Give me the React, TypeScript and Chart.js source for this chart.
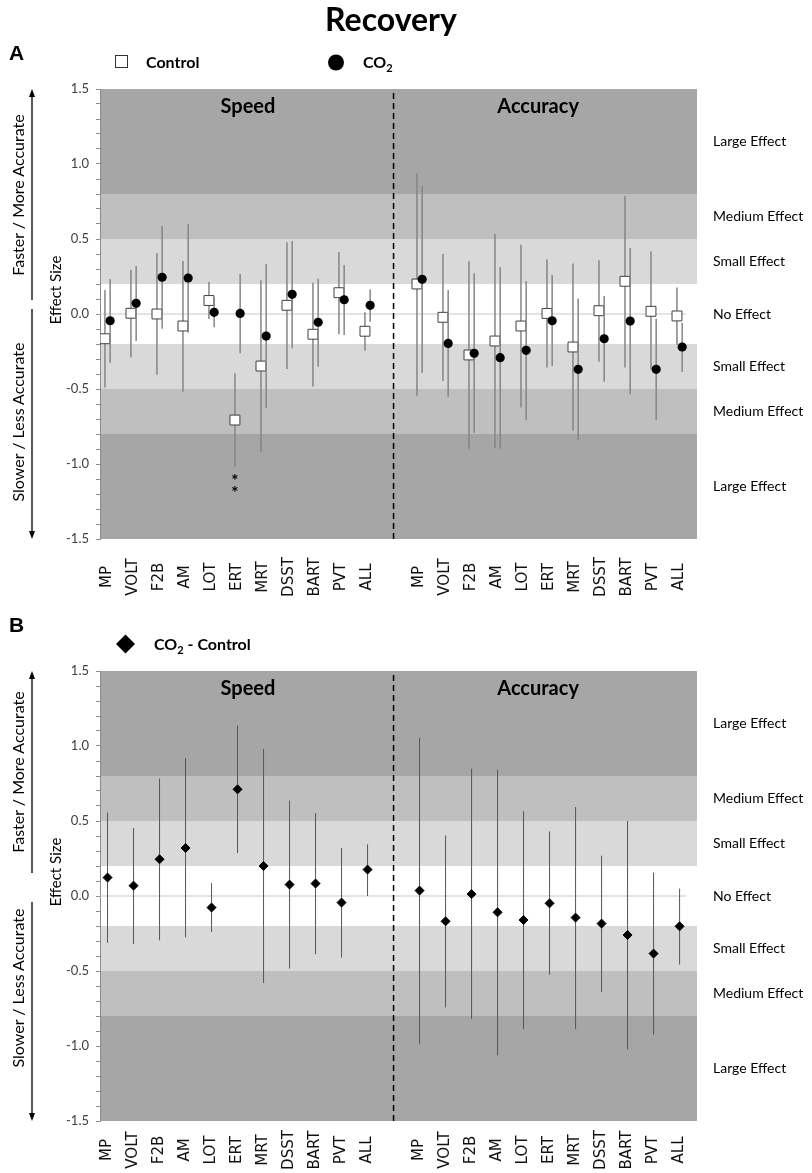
import React, { useEffect, useRef } from 'react';
import { Chart, registerables } from 'chart.js';

Chart.register(...registerables);

// ---------- categories & tick labels ----------
const SPEED_TESTS = ['MP', 'VOLT', 'F2B', 'AM', 'LOT', 'ERT', 'MRT', 'DSST', 'BART', 'PVT', 'ALL'];
const ACCURACY_TESTS = ['MP', 'VOLT', 'F2B', 'AM', 'LOT', 'ERT', 'MRT', 'DSST', 'BART', 'PVT', 'ALL'];
const Y_MAJOR_TICKS = [-1.5, -1.0, -0.5, 0.0, 0.5, 1.0, 1.5];
const EFFECT_LABELS = ['Large Effect', 'Medium Effect', 'Small Effect', 'No Effect', 'Small Effect', 'Medium Effect', 'Large Effect'];
const EFFECT_LABEL_VALUES = [1.15, 0.65, 0.35, 0.0, -0.35, -0.65, -1.15];
const BAND_LIMITS = [-1.5, -0.8, -0.5, -0.2, 0.2, 0.5, 0.8, 1.5];

// ---------- Panel A : Control ----------
const A_CONTROL_SPEED = [-0.165, 0.005, 0.0, -0.08, 0.09, -0.707, -0.347, 0.058, -0.135, 0.142, -0.115];
const A_CONTROL_SPEED_LOW = [-0.49, -0.289, -0.405, -0.518, -0.033, -1.018, -0.918, -0.367, -0.484, -0.135, -0.245];
const A_CONTROL_SPEED_HIGH = [0.16, 0.293, 0.407, 0.353, 0.213, -0.395, 0.225, 0.478, 0.209, 0.413, 0.011];
const A_CONTROL_ACC = [0.2, -0.022, -0.273, -0.18, -0.08, 0.004, -0.22, 0.022, 0.218, 0.018, -0.013];
const A_CONTROL_ACC_LOW = [-0.545, -0.447, -0.9, -0.893, -0.624, -0.356, -0.778, -0.318, -0.356, -0.369, -0.207];
const A_CONTROL_ACC_HIGH = [0.938, 0.4, 0.351, 0.533, 0.462, 0.364, 0.336, 0.358, 0.789, 0.416, 0.176];

// ---------- Panel A : CO2 ----------
const A_CO2_SPEED = [-0.045, 0.071, 0.245, 0.24, 0.011, 0.004, -0.147, 0.131, -0.055, 0.095, 0.058];
const A_CO2_SPEED_LOW = [-0.325, -0.18, -0.098, -0.125, -0.089, -0.262, -0.629, -0.229, -0.351, -0.14, -0.051];
const A_CO2_SPEED_HIGH = [0.233, 0.32, 0.587, 0.6, 0.11, 0.267, 0.333, 0.487, 0.235, 0.327, 0.164];
const A_CO2_ACC = [0.231, -0.196, -0.262, -0.291, -0.242, -0.045, -0.369, -0.165, -0.047, -0.369, -0.22];
const A_CO2_ACC_LOW = [-0.391, -0.551, -0.791, -0.898, -0.707, -0.347, -0.84, -0.451, -0.535, -0.707, -0.385];
const A_CO2_ACC_HIGH = [0.853, 0.16, 0.271, 0.311, 0.22, 0.26, 0.104, 0.12, 0.44, -0.031, -0.058];

// significance marks (panel A, Control ERT)
const A_SIG_TEST = 'ERT';
const A_SIG_VALUES = [-1.093, -1.167];
const A_SIG_TEXT = '*';

// ---------- Panel B : CO2 - Control ----------
const B_DIFF_SPEED = [0.123, 0.069, 0.245, 0.32, -0.077, 0.711, 0.2, 0.076, 0.083, -0.044, 0.176];
const B_DIFF_SPEED_LOW = [-0.313, -0.32, -0.295, -0.275, -0.24, 0.287, -0.58, -0.484, -0.387, -0.411, 0.0];
const B_DIFF_SPEED_HIGH = [0.556, 0.453, 0.783, 0.918, 0.085, 1.136, 0.98, 0.636, 0.553, 0.32, 0.345];
const B_DIFF_ACC = [0.036, -0.169, 0.013, -0.109, -0.16, -0.049, -0.144, -0.184, -0.26, -0.384, -0.202];
const B_DIFF_ACC_LOW = [-0.987, -0.742, -0.82, -1.062, -0.887, -0.524, -0.887, -0.64, -1.022, -0.924, -0.457];
const B_DIFF_ACC_HIGH = [1.056, 0.403, 0.849, 0.843, 0.565, 0.431, 0.593, 0.269, 0.5, 0.156, 0.049];

const SECTION_TITLES = ['Speed', 'Accuracy'];

// ---------- layout helpers ----------
const SPEED_START = 1;
const GAP_POS = SPEED_START + SPEED_TESTS.length; // 12
const ACC_START = GAP_POS + 1; // 13
const X_MIN = 0.71;
const X_MAX = 23.67;
const ZERO_LINE_END = 23.25;
const PAIR_OFFSET = 0.1;
const SECTION_TITLE_X = [6.4, 17.56];

const BAND_SHADES = ['#a6a6a6', '#bfbfbf', '#d9d9d9', '#ffffff', '#d9d9d9', '#bfbfbf', '#a6a6a6'];

const xTickValues = [
  ...SPEED_TESTS.map((_, i) => SPEED_START + i),
  ...ACCURACY_TESTS.map((_, i) => ACC_START + i),
];
const labelFor = (v: number) => {
  const r = Math.round(v);
  if (r >= SPEED_START && r < GAP_POS) return SPEED_TESTS[r - SPEED_START];
  if (r >= ACC_START) return ACCURACY_TESTS[r - ACC_START] ?? '';
  return '';
};
const yMinorTicks: number[] = [];
for (let i = -15; i <= 15; i++) yMinorTicks.push(i / 10);
const isMajor = (v: number) => Y_MAJOR_TICKS.some((m) => Math.abs(m - v) < 1e-6);

function points(speed: number[], acc: number[], offset: number) {
  return [
    ...speed.map((y, i) => ({ x: SPEED_START + i + offset, y })),
    ...acc.map((y, i) => ({ x: ACC_START + i + offset, y })),
  ];
}

const CALIBRI = 'Lato, "Open Sans", sans-serif';
const VERDANA = '"DejaVu Sans", Verdana, sans-serif';

const decorPlugin = {
  id: 'decor',
  beforeDraw(chart: any) {
    const { ctx, chartArea: a, scales } = chart;
    const y = scales.y;
    ctx.save();
    for (let i = 0; i < BAND_LIMITS.length - 1; i++) {
      const top = y.getPixelForValue(BAND_LIMITS[i + 1]);
      const bot = y.getPixelForValue(BAND_LIMITS[i]);
      ctx.fillStyle = BAND_SHADES[i];
      ctx.fillRect(a.left, top, a.right - a.left, bot - top);
    }
    ctx.restore();
  },
  beforeDatasetDraw(chart: any, args: any) {
    const ds = chart.data.datasets[args.index];
    if (!ds.errLow) return;
    const { ctx, scales } = chart;
    const x = scales.x;
    const y = scales.y;
    ctx.save();
    ctx.strokeStyle = ds.errColor;
    ctx.lineWidth = ds.errWidth;
    ds.data.forEach((p: any, i: number) => {
      const px = x.getPixelForValue(p.x);
      ctx.beginPath();
      ctx.moveTo(px, y.getPixelForValue(ds.errLow[i]));
      ctx.lineTo(px, y.getPixelForValue(ds.errHigh[i]));
      ctx.stroke();
    });
    ctx.restore();
  },
  afterDatasetsDraw(chart: any, _args: any, opts: any) {
    const { ctx, chartArea: a, scales } = chart;
    const x = scales.x;
    const y = scales.y;
    ctx.save();
    ctx.fillStyle = '#000';
    ctx.font = `bold 20px ${CALIBRI}`;
    ctx.textAlign = 'center';
    ctx.textBaseline = 'middle';
    SECTION_TITLES.forEach((t, i) => {
      ctx.fillText(t, x.getPixelForValue(SECTION_TITLE_X[i]), a.top + 18);
    });
    if (opts && opts.sig) {
      ctx.font = `bold 17px ${CALIBRI}`;
      opts.sig.values.forEach((v: number) => {
        ctx.fillText(opts.sig.text, x.getPixelForValue(opts.sig.x), y.getPixelForValue(v) + 4);
      });
    }
    // category labels along the x axis (rotated, centred in their band)
    ctx.fillStyle = '#111';
    ctx.font = `${opts.labelSize}px ${VERDANA}`;
    ctx.textAlign = 'center';
    ctx.textBaseline = 'middle';
    x.ticks.forEach((t: any) => {
      const label = labelFor(t.value);
      if (!label) return;
      ctx.save();
      ctx.translate(x.getPixelForValue(t.value), a.bottom + opts.labelOffset);
      ctx.rotate(-Math.PI / 2);
      ctx.fillText(label, 0, 0);
      ctx.restore();
    });
    ctx.restore();
  },
};

function baseOptions(layoutTop: number, xHeight: number, labelOffset: number, sig: any) {
  return {
    responsive: false,
    animation: false as const,
    devicePixelRatio: 1,
    events: [] as any[],
    layout: { padding: { top: layoutTop, left: 0, right: 0, bottom: 0 } },
    plugins: {
      legend: { display: false },
      tooltip: { enabled: false },
      decor: { sig, labelOffset, labelSize: 15 },
    },
    scales: {
      x: {
        type: 'linear' as const,
        min: X_MIN,
        max: X_MAX,
        afterBuildTicks: (s: any) => {
          s.ticks = xTickValues.map((v) => ({ value: v }));
        },
        afterFit: (s: any) => {
          s.height = xHeight;
          s.paddingLeft = 0;
          s.paddingRight = 0;
        },
        grid: { display: false, drawTicks: false },
        border: { display: false },
        ticks: {
          display: false,
          autoSkip: false,
          callback: (v: any) => labelFor(Number(v)),
        },
      },
      y: {
        position: 'left' as const,
        min: -1.5,
        max: 1.5,
        afterBuildTicks: (s: any) => {
          s.ticks = yMinorTicks.map((v) => ({ value: v }));
        },
        afterFit: (s: any) => {
          s.width = 100;
          s.paddingTop = 0;
          s.paddingBottom = 0;
        },
        grid: { drawOnChartArea: false, drawTicks: true, tickLength: 4, color: '#8c8c8c' },
        border: { display: true, color: '#8c8c8c', width: 1 },
        ticks: {
          autoSkip: false,
          padding: 7,
          color: '#404040',
          font: { family: CALIBRI, size: 13 },
          callback: (v: any) => (isMajor(Number(v)) ? Number(v).toFixed(1) : ''),
        },
      },
      yR: {
        position: 'right' as const,
        min: -1.5,
        max: 1.5,
        afterBuildTicks: (s: any) => {
          s.ticks = EFFECT_LABEL_VALUES.map((v) => ({ value: v }));
        },
        afterFit: (s: any) => {
          s.width = 115;
          s.paddingTop = 0;
          s.paddingBottom = 0;
        },
        grid: { display: false, drawTicks: false },
        border: { display: false },
        ticks: {
          autoSkip: false,
          padding: 16,
          color: '#000',
          font: { family: CALIBRI, size: 14 },
          callback: (v: any) => {
            const idx = EFFECT_LABEL_VALUES.findIndex((e) => Math.abs(e - Number(v)) < 1e-6);
            return idx >= 0 ? EFFECT_LABELS[idx] : '';
          },
        },
      },
    },
  };
}

function guideDatasets() {
  return [
    {
      label: 'zero',
      data: [{ x: X_MIN, y: 0 }, { x: ZERO_LINE_END, y: 0 }],
      showLine: true,
      borderColor: '#c8c8c8',
      borderWidth: 1,
      pointRadius: 0,
      order: 10,
    },
    {
      label: 'divider',
      data: [{ x: GAP_POS, y: -1.5 }, { x: GAP_POS, y: 1.5 }],
      showLine: true,
      borderColor: '#000',
      borderWidth: 1.5,
      borderDash: [6, 4],
      pointRadius: 0,
      order: 9,
    },
  ];
}

function configA(): any {
  return {
    type: 'scatter',
    data: {
      datasets: [
        ...guideDatasets(),
        {
          label: 'Control',
          data: points(A_CONTROL_SPEED, A_CONTROL_ACC, -PAIR_OFFSET),
          errLow: [...A_CONTROL_SPEED_LOW, ...A_CONTROL_ACC_LOW],
          errHigh: [...A_CONTROL_SPEED_HIGH, ...A_CONTROL_ACC_HIGH],
          errColor: '#858585',
          errWidth: 1.5,
          pointStyle: 'rect',
          pointRadius: 7,
          backgroundColor: '#ffffff',
          borderColor: '#404040',
          borderWidth: 1,
          order: 2,
        },
        {
          label: 'CO2',
          data: points(A_CO2_SPEED, A_CO2_ACC, PAIR_OFFSET),
          errLow: [...A_CO2_SPEED_LOW, ...A_CO2_ACC_LOW],
          errHigh: [...A_CO2_SPEED_HIGH, ...A_CO2_ACC_HIGH],
          errColor: '#858585',
          errWidth: 1.5,
          pointStyle: 'circle',
          pointRadius: 4.6,
          backgroundColor: '#000000',
          borderColor: '#000000',
          borderWidth: 0,
          order: 1,
        },
      ],
    },
    options: baseOptions(9, 81, 38, {
      x: SPEED_START + SPEED_TESTS.indexOf(A_SIG_TEST) - PAIR_OFFSET,
      values: A_SIG_VALUES,
      text: A_SIG_TEXT,
    }),
    plugins: [decorPlugin],
  };
}

function configB(): any {
  return {
    type: 'scatter',
    data: {
      datasets: [
        ...guideDatasets(),
        {
          label: 'CO2 - Control',
          data: points(B_DIFF_SPEED, B_DIFF_ACC, 0),
          errLow: [...B_DIFF_SPEED_LOW, ...B_DIFF_ACC_LOW],
          errHigh: [...B_DIFF_SPEED_HIGH, ...B_DIFF_ACC_HIGH],
          errColor: '#555555',
          errWidth: 1,
          pointStyle: 'rectRot',
          pointRadius: 4.5,
          backgroundColor: '#000000',
          borderColor: '#000000',
          borderWidth: 1,
          order: 1,
        },
      ],
    },
    options: baseOptions(21, 52, 29, null),
    plugins: [decorPlugin],
  };
}

function ChartCanvas({ top, height, make }: { top: number; height: number; make: () => any }) {
  const ref = useRef<HTMLCanvasElement | null>(null);
  useEffect(() => {
    if (!ref.current) return;
    const chart = new Chart(ref.current, make());
    return () => chart.destroy();
  }, []);
  return (
    <canvas
      ref={ref}
      width={812}
      height={height}
      style={{ position: 'absolute', left: 0, top, width: 812, height, display: 'block' }}
    />
  );
}

function SideLabels({ topTip, upperEnd, lowerStart, bottomTip, upperMid, lowerMid, effMid }: any) {
  const ax = 32;
  return (
    <g>
      <line x1={ax} y1={topTip + 6} x2={ax} y2={upperEnd} stroke="#000" strokeWidth={1.3} />
      <polygon points={`${ax},${topTip} ${ax - 3},${topTip + 8} ${ax + 3},${topTip + 8}`} fill="#000" />
      <line x1={ax} y1={lowerStart} x2={ax} y2={bottomTip - 6} stroke="#000" strokeWidth={1.3} />
      <polygon points={`${ax},${bottomTip} ${ax - 3},${bottomTip - 8} ${ax + 3},${bottomTip - 8}`} fill="#000" />
      <text transform={`translate(24,${upperMid}) rotate(-90)`} textAnchor="middle" fontFamily={CALIBRI} fontSize={16} fill="#000">
        Faster / More Accurate
      </text>
      <text transform={`translate(24,${lowerMid}) rotate(-90)`} textAnchor="middle" fontFamily={CALIBRI} fontSize={16} fill="#000">
        Slower / Less Accurate
      </text>
      <text transform={`translate(61,${effMid}) rotate(-90)`} textAnchor="middle" fontFamily={CALIBRI} fontSize={15} fill="#000">
        Effect Size
      </text>
    </g>
  );
}

export default function App() {
  return (
    <div style={{ position: 'absolute', left: 0, top: 0, width: 812, height: 1173, overflow: 'hidden', background: '#fff' }}>
      <ChartCanvas top={80} height={540} make={configA} />
      <ChartCanvas top={650} height={523} make={configB} />
      <svg width={812} height={1173} style={{ position: 'absolute', left: 0, top: 0, pointerEvents: 'none' }}>
        <text x={391} y={31} textAnchor="middle" fontFamily={CALIBRI} fontWeight="bold" fontSize={32} fill="#000">
          Recovery
        </text>
        <text x={9} y={60} fontFamily='"Liberation Sans", Arial, sans-serif' fontWeight="bold" fontSize={21} fill="#000">
          A
        </text>
        <text x={9} y={632} fontFamily='"Liberation Sans", Arial, sans-serif' fontWeight="bold" fontSize={21} fill="#000">
          B
        </text>
        {/* legend A */}
        <rect x={115.5} y={55.5} width={12} height={12} fill="#fff" stroke="#333" strokeWidth={1} />
        <text x={146} y={68} fontFamily={CALIBRI} fontWeight="bold" fontSize={16} fill="#000">
          Control
        </text>
        <circle cx={336} cy={62.5} r={8} fill="#000" />
        <text x={363} y={68} fontFamily={CALIBRI} fontWeight="bold" fontSize={16} fill="#000">
          <tspan>CO</tspan>
          <tspan fontSize={11} dy={4}>2</tspan>
        </text>
        {/* legend B */}
        <polygon points="125.5,634.5 135,644 125.5,653.5 116,644" fill="#000" />
        <text x={154} y={650} fontFamily={CALIBRI} fontWeight="bold" fontSize={16} fill="#000">
          <tspan>CO</tspan>
          <tspan fontSize={11} dy={4}>2</tspan>
          <tspan dy={-4}> - Control</tspan>
        </text>
        <SideLabels topTip={89} upperEnd={300} lowerStart={309} bottomTip={539} upperMid={195} lowerMid={422} effMid={290} />
        <SideLabels topTip={671} upperEnd={873} lowerStart={902} bottomTip={1121} upperMid={772} lowerMid={988} effMid={872} />
      </svg>
    </div>
  );
}
